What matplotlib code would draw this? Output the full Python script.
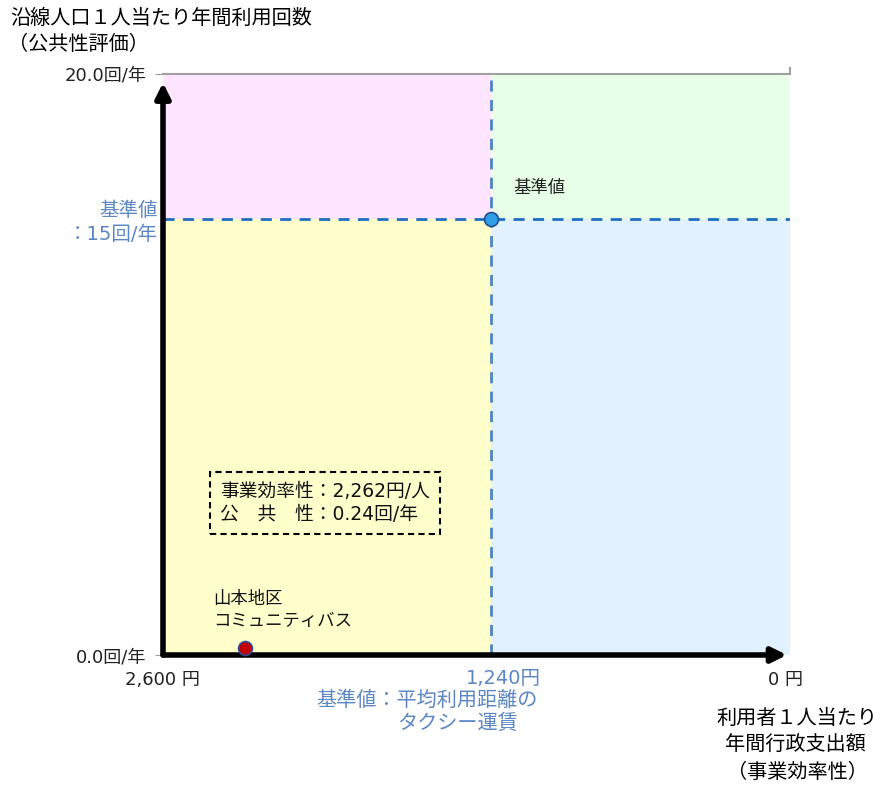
import matplotlib
matplotlib.use("Agg")
import matplotlib.pyplot as plt
from matplotlib.patches import Rectangle

plt.rcParams['font.family'] = ['Noto Sans CJK JP', 'DejaVu Sans']
NUMF = ['DejaVu Sans', 'Noto Sans CJK JP']

# data
x_max, x_min = 2600, 0          # 円 (reversed axis)
y_min, y_max = 0.0, 20.0        # 回/年
ref_cost = 1240                 # 基準値: 平均利用距離のタクシー運賃
ref_use = 15                    # 基準値: 15回/年
pt_name = "山本地区\nコミュニティバス"
pt_cost = 2262
pt_use = 0.24

fig = plt.figure(figsize=(8.83, 7.88), dpi=100)
ax = fig.add_axes([163/883, 1-655/788, 627/883, 581/788])
ax.set_xlim(x_max, x_min)
ax.set_ylim(y_min, y_max)

# quadrants
ax.add_patch(Rectangle((x_max, ref_use), ref_cost - x_max, y_max - ref_use, color='#FFE5FF', lw=0, zorder=0))
ax.add_patch(Rectangle((ref_cost, ref_use), x_min - ref_cost, y_max - ref_use, color='#E6FFE6', lw=0, zorder=0))
ax.add_patch(Rectangle((x_max, y_min), ref_cost - x_max, ref_use - y_min, color='#FFFFCC', lw=0, zorder=0))
ax.add_patch(Rectangle((ref_cost, y_min), x_min - ref_cost, ref_use - y_min, color='#E1F1FF', lw=0, zorder=0))

# spines
for s in ['left', 'bottom', 'right']:
    ax.spines[s].set_visible(False)
ax.spines['top'].set_color('#A0A0A0')
ax.spines['top'].set_linewidth(1.5)

ax.set_xticks([])
ax.set_yticks([y_min, y_max])
ax.set_yticklabels([f"{y_min:.1f}回/年", f"{y_max:.1f}回/年"], fontsize=13, color='#222222',
                   family=NUMF)
ax.tick_params(axis='y', length=6, color='#A0A0A0', pad=6)
# tick on top-right
ax.plot([x_min, x_min], [y_max, y_max + 0.2], color='#A0A0A0', lw=1.5, clip_on=False)

# axis arrows
ax.annotate('', xy=(0, 0.985), xytext=(0, 0), xycoords='axes fraction',
            arrowprops=dict(arrowstyle='-|>', lw=4, color='black', mutation_scale=22,
                            shrinkA=0, shrinkB=0), annotation_clip=False, zorder=5)
ax.annotate('', xy=(0.995, 0), xytext=(0, 0), xycoords='axes fraction',
            arrowprops=dict(arrowstyle='-|>', lw=4, color='black', mutation_scale=22,
                            shrinkA=0, shrinkB=0), annotation_clip=False, zorder=5)

# reference lines
ax.axvline(ref_cost, color='#4F84C4', lw=2, ls=(0, (4, 3)), zorder=2)
ax.axhline(ref_use, color='#1F6FC0', lw=2, ls=(0, (4, 3)), zorder=2)

# points
ax.scatter([ref_cost], [ref_use], s=100, color='#2E9FE6', edgecolor='#1F4E8C', lw=1.2, zorder=6, clip_on=False)
ax.scatter([pt_cost], [pt_use], s=100, color='#C00000', edgecolor='#2F4F9F', lw=1.2, zorder=6, clip_on=False)

blue = '#5B87C5'
# axis titles
fig.text(10/883, 1-18/788, "沿線人口１人当たり年間利用回数", fontsize=14.5, va='center', ha='left')
fig.text(8/883, 1-45/788, "（公共性評価）", fontsize=14.5, va='center', ha='left')
fig.text(158/883, 1-211/788, "基準値", fontsize=14, va='center', ha='right', color=blue)
fig.text(158/883, 1-235/788, f"：{ref_use}回/年", fontsize=14, va='center', ha='right', color=blue,
         family=NUMF)

fig.text(162/883, 1-680/788, f"{x_max:,} 円", fontsize=13, va='center', ha='center', color='#222222',
         family=NUMF)
fig.text(785/883, 1-680/788, f"{x_min} 円", fontsize=13, va='center', ha='center', color='#222222',
         family=NUMF)
fig.text(503/883, 1-678/788, f"{ref_cost:,}円", fontsize=14, va='center', ha='center', color=blue,
         family=NUMF)
fig.text(427/883, 1-700/788, "基準値：平均利用距離の", fontsize=14.5, va='center', ha='center', color=blue)
fig.text(458/883, 1-723/788, "タクシー運賃", fontsize=14.5, va='center', ha='center', color=blue)

fig.text(877/883, 1-718/788, "利用者１人当たり", fontsize=14.5, va='center', ha='right')
fig.text(866/883, 1-745/788, "年間行政支出額", fontsize=14.5, va='center', ha='right')
fig.text(868/883, 1-772/788, "（事業効率性）", fontsize=14.5, va='center', ha='right')

# annotations inside
fig.text(513/883, 1-188/788, "基準値", fontsize=12.5, va='center', ha='left', color='#222222')
fig.text(213/883, 1-610/788, pt_name, fontsize=12.5, va='center', ha='left', color='#111111', linespacing=1.25)

box_text = f"事業効率性：{pt_cost:,}円/人\n公　共　性：{pt_use}回/年"
fig.text(220/883, 1-503/788, box_text, fontsize=13.5, va='center', ha='left', color='#111111',
         linespacing=1.25, family=NUMF,
         bbox=dict(boxstyle='square,pad=0.55', fc='none', ec='black', lw=1.5, ls=(0, (3, 2))))

fig.savefig('out.png', dpi=100)
